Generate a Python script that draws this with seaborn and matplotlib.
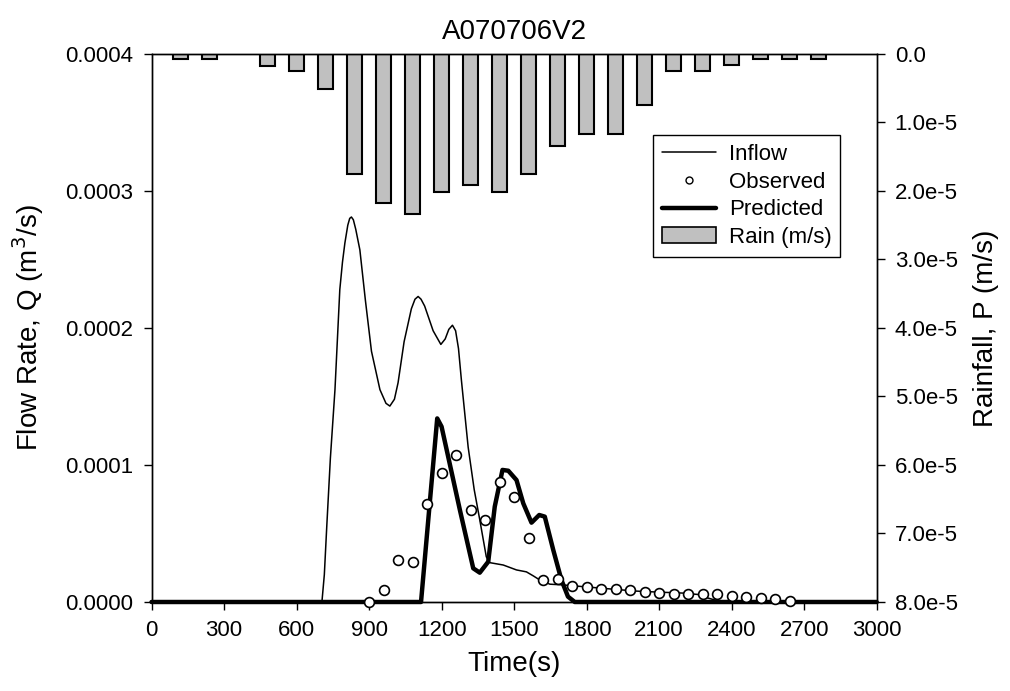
import numpy as np
import pandas as pd
import matplotlib
matplotlib.use("Agg")
import matplotlib.pyplot as plt
import seaborn as sns
from matplotlib.lines import Line2D
from matplotlib.patches import Patch
from matplotlib.ticker import FuncFormatter, MultipleLocator

# --- dados ---
inflow_t = [0, 705, 715, 725, 740, 759, 779, 790, 800, 812, 820, 827, 835, 845, 862,
            885, 910, 945, 970, 986, 1005, 1020, 1045, 1075, 1090, 1103, 1115, 1130,
            1165, 1197, 1215, 1230, 1245, 1258, 1270, 1282, 1310, 1335, 1358, 1385,
            1400, 1455, 1510, 1551, 1580, 1607, 1648, 1700, 1800, 1900, 2000, 2100,
            2200, 2260, 2300, 2340, 2380, 3000]
inflow_q = [0, 0, 0.2e-4, 0.55e-4, 1.05e-4, 1.55e-4, 2.28e-4, 2.48e-4, 2.62e-4,
            2.75e-4, 2.80e-4, 2.81e-4, 2.79e-4, 2.72e-4, 2.57e-4, 2.2e-4, 1.83e-4,
            1.55e-4, 1.45e-4, 1.43e-4, 1.48e-4, 1.6e-4, 1.9e-4, 2.14e-4, 2.21e-4,
            2.23e-4, 2.21e-4, 2.16e-4, 1.98e-4, 1.88e-4, 1.92e-4, 1.99e-4, 2.02e-4,
            1.98e-4, 1.85e-4, 1.62e-4, 1.13e-4, 0.82e-4, 0.6e-4, 0.33e-4, 2.87e-5,
            2.7e-5, 2.34e-5, 2.2e-5, 1.9e-5, 1.6e-5, 1.3e-5, 1.25e-5, 1.1e-5, 0.95e-5,
            0.8e-5, 0.72e-5, 0.65e-5, 0.55e-5, 0.3e-5, 0.1e-5, 0, 0]

obs_t = [900, 960, 1020, 1080, 1140, 1200, 1260, 1320, 1380, 1440, 1500, 1560, 1620,
         1680, 1740, 1800, 1860, 1920, 1980, 2040, 2100, 2160, 2220, 2280, 2340, 2400,
         2460, 2520, 2580, 2640]
obs_q = [0, 8.8e-6, 3.07e-5, 2.92e-5, 7.13e-5, 9.39e-5, 1.073e-4, 6.72e-5, 5.96e-5,
         8.78e-5, 7.64e-5, 4.65e-5, 1.6e-5, 1.65e-5, 1.17e-5, 1.07e-5, 0.95e-5, 0.92e-5,
         0.88e-5, 0.71e-5, 0.63e-5, 6.1e-6, 6.0e-6, 5.8e-6, 5.8e-6, 4.4e-6, 3.65e-6,
         2.9e-6, 2.4e-6, 0.5e-6]

pred_t = [0, 1115, 1182, 1200, 1276, 1331, 1358, 1393, 1420, 1452, 1476, 1510, 1538,
          1572, 1604, 1627, 1662, 1696, 1723, 1751, 3000]
pred_q = [0, 0, 1.34e-4, 1.28e-4, 6.7e-5, 2.46e-5, 2.14e-5, 2.94e-5, 6.96e-5, 9.64e-5,
          9.58e-5, 8.9e-5, 7.2e-5, 5.79e-5, 6.35e-5, 6.23e-5, 3.8e-5, 1.6e-5, 3.9e-6, 0, 0]

rain_t = [120, 240, 480, 600, 720, 840, 960, 1080, 1200, 1320, 1440, 1560, 1680, 1800,
          1920, 2040, 2160, 2280, 2400, 2520, 2640, 2760]
rain_p = [8e-7, 8e-7, 1.7e-6, 2.5e-6, 5.1e-6, 1.75e-5, 2.18e-5, 2.34e-5, 2.01e-5, 1.92e-5,
          2.01e-5, 1.75e-5, 1.34e-5, 1.17e-5, 1.17e-5, 7.5e-6, 2.5e-6, 2.5e-6, 1.65e-6,
          8e-7, 8e-7, 8e-7]

# --- estilo ---
sns.set_style("ticks")
plt.rcParams['font.family'] = ['Liberation Sans', 'DejaVu Sans']
plt.rcParams['text.color'] = 'black'
plt.rcParams['axes.labelcolor'] = 'black'
plt.rcParams['xtick.color'] = 'black'
plt.rcParams['ytick.color'] = 'black'

TICK_FS = 16
LABEL_FS = 20

fig = plt.figure(figsize=(10.1, 6.91), dpi=100)
ax = fig.add_axes([0.150, 0.1288, 0.718, 0.7931])
ax2 = ax.twinx()

# chuva (eixo direito invertido)
df_rain = pd.DataFrame({'t': rain_t, 'p': rain_p})
sns.barplot(data=df_rain, x='t', y='p', native_scale=True, width=0.5, ax=ax2,
            color='#c0c0c0', saturation=1, edgecolor='black', linewidth=1.5,
            errorbar=None)
ax2.set_ylim(8e-5, 0)
ax2.yaxis.set_major_locator(MultipleLocator(1e-5))

def fmt_rain(v, pos):
    if abs(v) < 1e-12:
        return "0.0"
    m, e = f"{v:.1e}".split("e")
    return f"{m}e{int(e)}"

ax2.yaxis.set_major_formatter(FuncFormatter(fmt_rain))
ax2.set_ylabel('Rainfall, P (m/s)', fontsize=LABEL_FS, labelpad=11)

# vazões (eixo esquerdo, desenhado por cima)
ax.set_zorder(ax2.get_zorder() + 1)
ax.patch.set_visible(False)

sns.lineplot(x=inflow_t, y=inflow_q, ax=ax, color='black', linewidth=1.1, sort=False,
             clip_on=False)
sns.lineplot(x=pred_t, y=pred_q, ax=ax, color='black', linewidth=3.2, sort=False,
             clip_on=False)
sns.scatterplot(x=obs_t, y=obs_q, ax=ax, marker='o', s=50, facecolor='white',
                edgecolor='black', linewidth=1.2, zorder=5, clip_on=False)

ax.set_xlim(0, 3000)
ax.set_ylim(0, 0.0004)
ax.xaxis.set_major_locator(MultipleLocator(300))
ax.yaxis.set_major_locator(MultipleLocator(0.0001))
ax.yaxis.set_major_formatter(FuncFormatter(lambda v, p: f"{v:.4f}"))
ax.set_xlabel('Time(s)', fontsize=LABEL_FS, labelpad=7)
ax.set_ylabel('Flow Rate, Q (m$^3$/s)', fontsize=LABEL_FS, labelpad=14)
ax.set_title('A070706V2', fontsize=LABEL_FS, pad=11)

for a in (ax, ax2):
    a.tick_params(direction='out', length=6, width=1, colors='black',
                  labelsize=TICK_FS, pad=7)
    for s in a.spines.values():
        s.set_visible(True)
        s.set_color('black')
        s.set_linewidth(1.0)

handles = [Line2D([], [], color='black', linewidth=1.1),
           Line2D([], [], color='black', linestyle='none', marker='o', markersize=5,
                  markerfacecolor='white', markeredgecolor='black'),
           Line2D([], [], color='black', linewidth=3.2),
           Patch(facecolor='#c0c0c0', edgecolor='black', linewidth=1.2)]
labels = ['Inflow', 'Observed', 'Predicted', 'Rain (m/s)']
leg = ax.legend(handles, labels, loc='upper left', bbox_to_anchor=(0.6917, 0.852),
                frameon=True, fancybox=False, framealpha=1, edgecolor='black',
                fontsize=TICK_FS, handlelength=2.45, handletextpad=0.55, borderpad=0.4,
                labelspacing=0.3, borderaxespad=0)
leg.get_frame().set_linewidth(1.0)

fig.savefig('out.png', dpi=100)
